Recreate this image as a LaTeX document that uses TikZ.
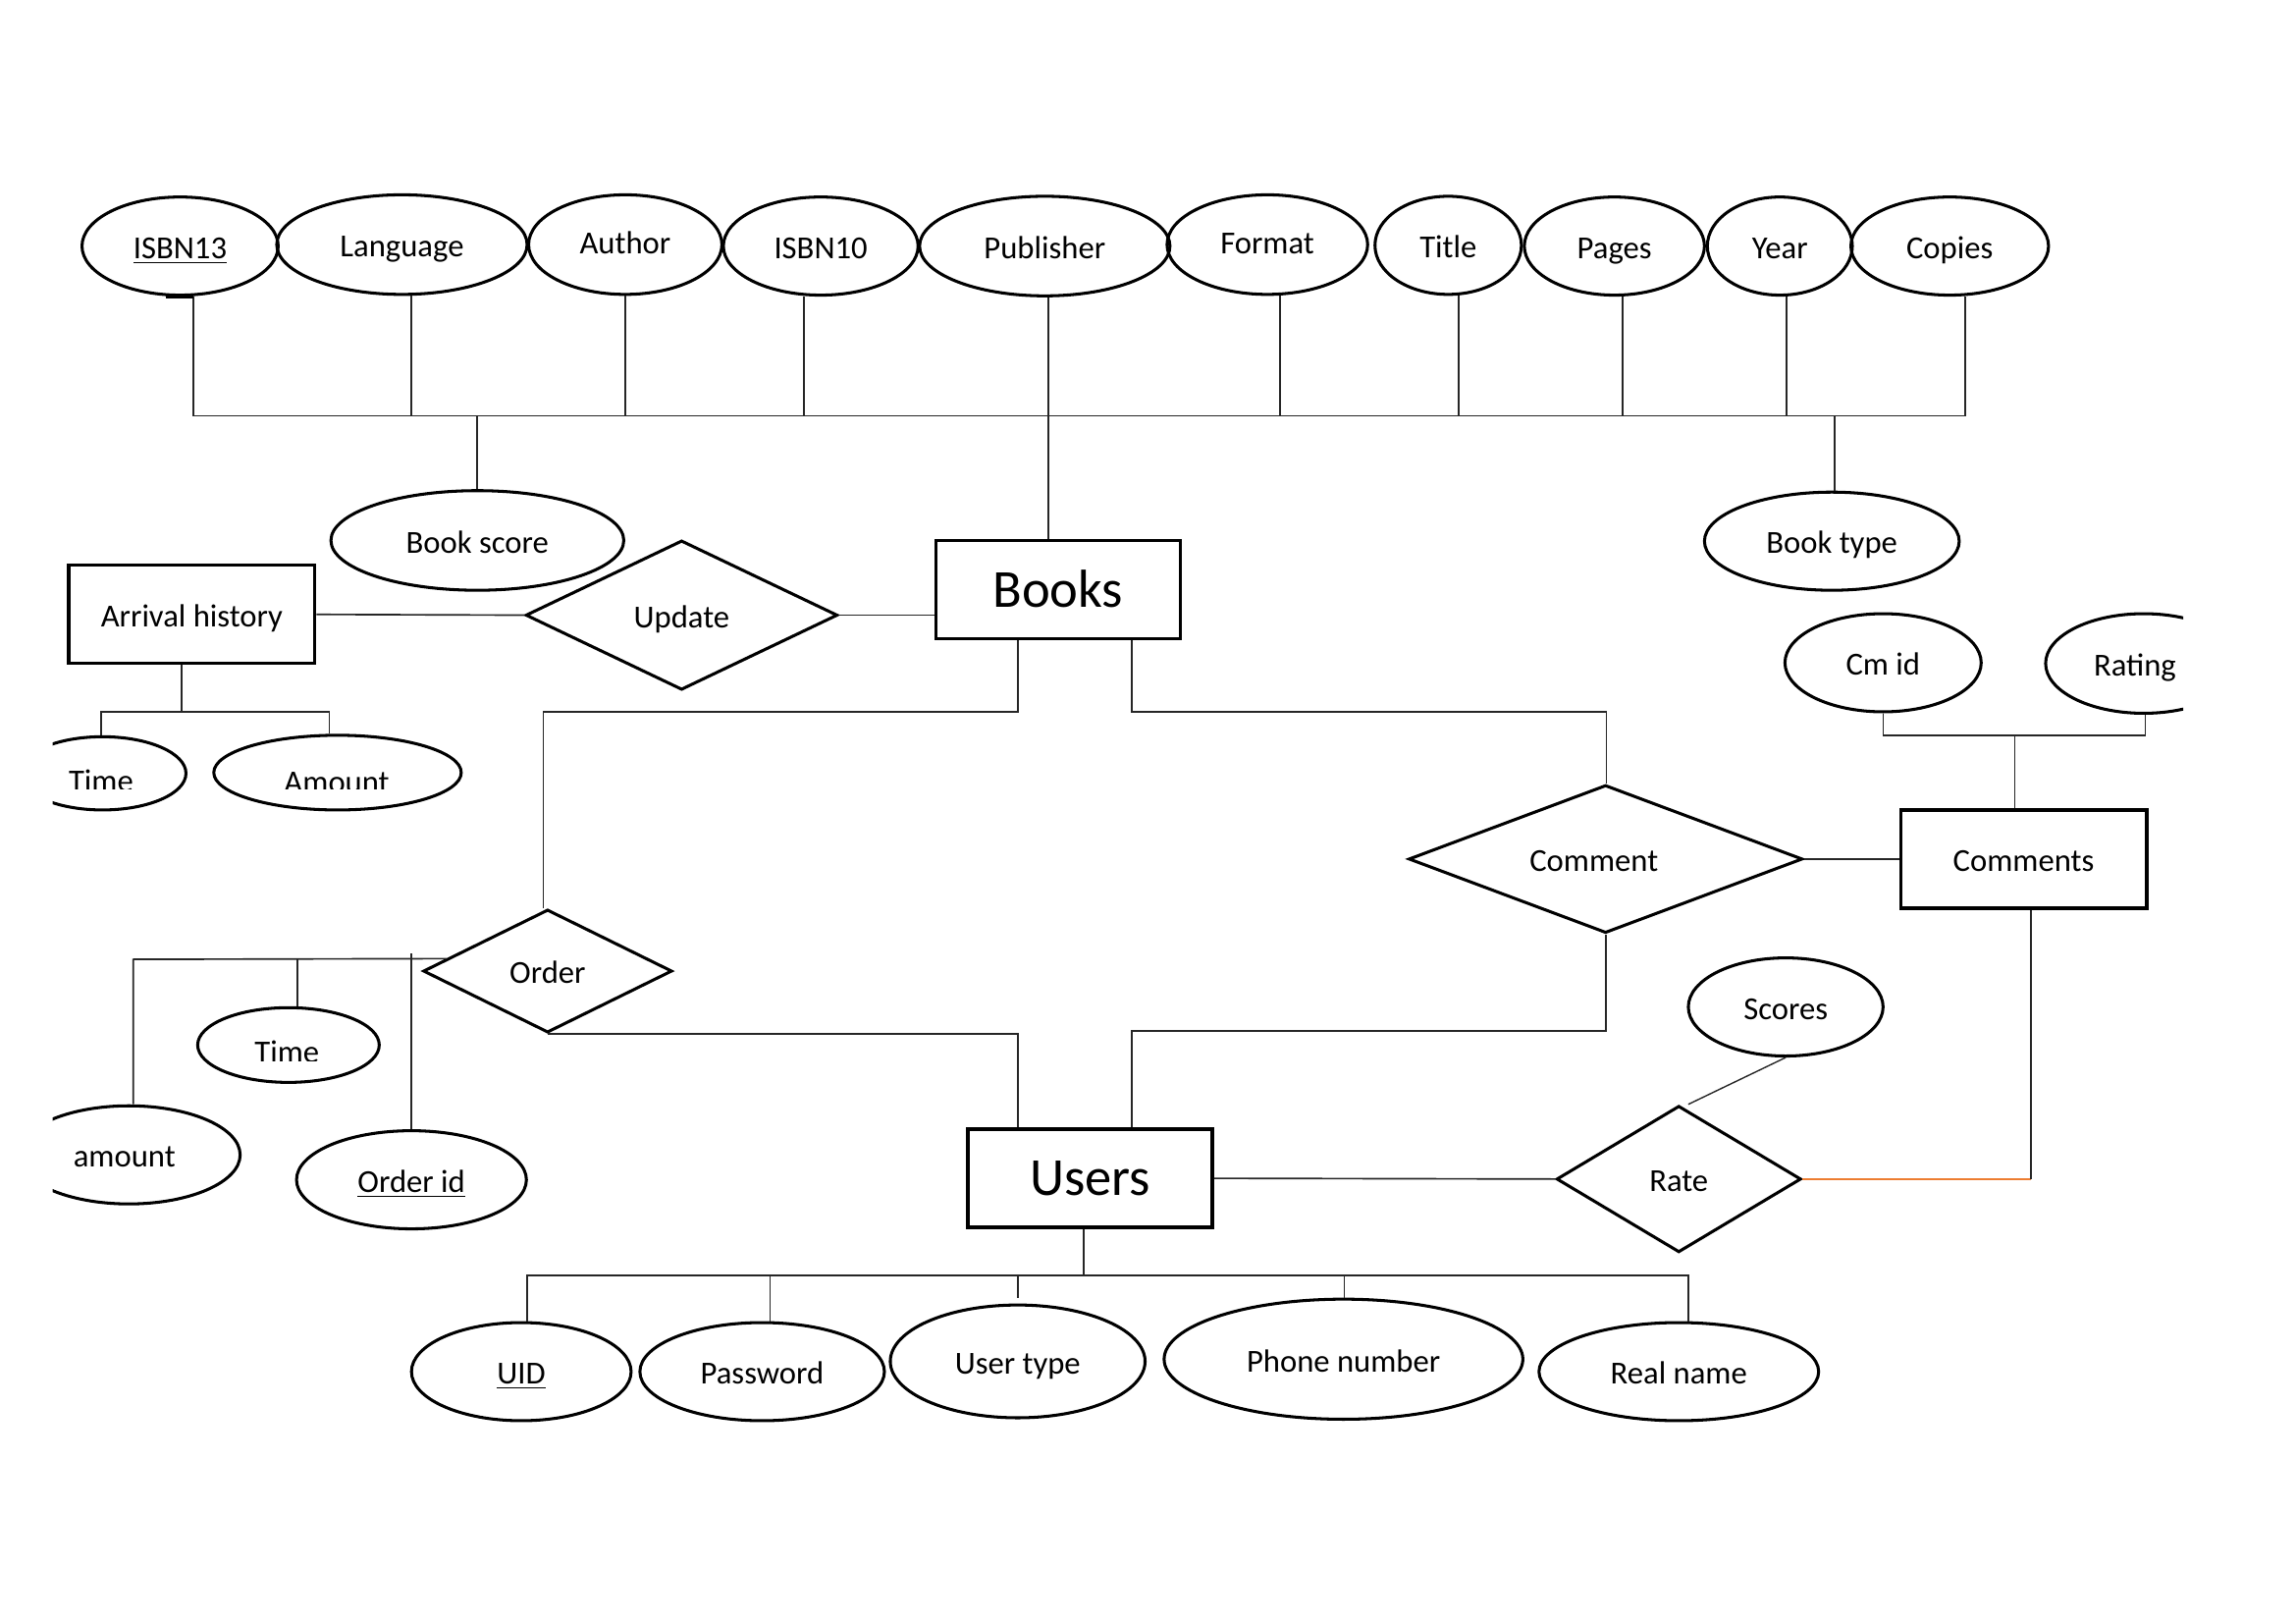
\documentclass[tikz,border=0pt]{standalone}
\usepackage{fontspec}
\setmainfont{Carlito}
\usetikzlibrary{shapes.geometric}

\newdimen\unitlen
\unitlen=0.018941cm
\newcommand\attrfont{\fontsize{11.8}{14}\selectfont}
\newcommand\entfont{\fontsize{19.7}{24}\selectfont}
\definecolor{linkorange}{HTML}{ED7D31}

\tikzset{
  attr/.style 2 args={draw, ellipse, line width=1.1pt, inner sep=0pt,
    minimum width=#1*\unitlen, minimum height=#2*\unitlen,
    font=\attrfont, text height=9.2pt, text depth=0pt},
  entity/.style 2 args={draw, rectangle, line width=1.2pt, inner sep=0pt,
    minimum width=#1*\unitlen, minimum height=#2*\unitlen,
    font=\attrfont, text height=9.2pt, text depth=0pt},
  bigentity/.style 2 args={entity={#1}{#2}, font=\entfont,
    text height=12.9pt, text depth=0pt},
  rel/.style 2 args={draw, diamond, line width=1.1pt, inner sep=0pt,
    minimum width=#1*\unitlen, minimum height=#2*\unitlen,
    font=\attrfont, text height=9.2pt, text depth=0pt},
  lbl/.style={inner sep=0pt, font=\attrfont},
  conn/.style={draw=black!85, line width=0.6pt},
}

\begin{document}
\begin{tikzpicture}[x=0.018941cm, y=-0.018941cm]
\useasboundingbox (0,0) rectangle (1568,1108);
\fill[white] (0,0) rectangle (1568,1108);
\clip (36,0) rectangle (1491,1108);

% ---------- Books and its attributes ----------
\node[attr={134}{67}] (isbn13)    at (123,168)   {\underline{ISBN13}};
\node[attr={171}{68}] (language)  at (274.5,167) {Language};
\node[attr={132}{68}] (author)    at (427,167)   {\raisebox{2.2\unitlen}{Author}};
\node[attr={133}{67}] (isbn10)    at (560.5,168) {ISBN10};
\node[attr={171}{68}] (publisher) at (713.5,168) {Publisher};
\node[attr={137}{68}] (format)    at (865.5,167) {\raisebox{2.2\unitlen}{Format}};
\node[attr={100}{67}] (title)     at (989,167.5) {Title};
\node[attr={123}{67}] (pages)     at (1102.5,168) {Pages};
\node[attr={99}{67}]  (year)      at (1215.5,168) {Year};
\node[attr={135}{67}] (copies)    at (1331.5,168) {Copies};
\node[attr={200}{68}] (bscore)    at (326,369)   {Book score};
\node[attr={174}{67}] (btype)     at (1251,369.5) {Book type};

\node[bigentity={167}{67}] (books) at (722.5,402.5) {Books};

\coordinate (topbusL) at (132,284);
\coordinate (topbusR) at (1342,284);
\draw[conn] (topbusL |- isbn13.south) -- (topbusL) -- (topbusR) -- (topbusR |- copies.south);
\draw[line width=1.4pt] (113,0 |- isbn13.south) -- (132,0 |- isbn13.south);
\foreach \n/\x in {language/281, author/427, isbn10/549, format/874,
                   title/996, pages/1108, year/1220}
  \draw[conn] (\x,0 |- \n.south) -- (\x,0 |- topbusL);
\draw[conn] (716,0 |- publisher.south) -- (716,0 |- books.north);
\draw[conn] (bscore.north |- topbusL) -- (bscore.north);
\draw[conn] (1253,0 |- topbusL) -- (1253,0 |- btype.north);

% ---------- Arrival history ----------
\node[entity={168}{67}] (arrival) at (131,419.5) {Arrival history};
\node[rel={213}{102}] (update) at (465.5,420) {Update};
\node[attr={114}{50}] (ahtime)   at (70,528)    {};
\node[attr={169}{51}] (ahamount) at (230.5,527.5) {};
\begin{scope}
  \clip (0,500) rectangle (1568,538.5);
  \node[lbl, anchor=base] (ahtimetext)   at (69,540.5)  {Time};
  \node[lbl, anchor=base] (ahamounttext) at (230,541) {Amount};
\end{scope}

\draw[conn] (arrival.east) -- (update.west);
\draw[conn] (update.east) -- (update.east -| books.west);
\coordinate (arrbus) at (124,486);
\draw[conn] (arrbus |- arrival.south) -- (arrbus);
\draw[conn] (69,0 |- ahtime.north) |- (225,0 |- arrbus) -- (225,0 |- ahamount.north);

% ---------- Comments ----------
\node[rel={269}{101}] (comment) at (1096.5,586.5) {\makebox[0pt]{Comment\kern16\unitlen}};
\node[entity={168}{67}] (comments) at (1382,586.5) {Comments};
\node[attr={134}{67}] (cmid)   at (1286,452.5) {Cm id};
\node[attr={134}{68}] (rating) at (1464,453)   {Rating\kern12\unitlen};

\coordinate (bkcom) at (1097,486);
\draw[conn] (773,0 |- books.south) |- (bkcom) -- (bkcom |- comment.north);
\draw[conn] (comment.east) -- (comments.west);
\coordinate (cmbus) at (1376,502);
\draw[conn] (cmbus |- comments.north) -- (cmbus);
\draw[conn] (cmid.south) |- (1465,0 |- cmbus) -- (1465,0 |- rating.south);

% ---------- Order ----------
\node[rel={170}{84}] (order) at (374,663) {Order};
\node[attr={124}{51}] (otime)   at (197,713.5) {};
\node[attr={152}{67}] (amount2) at (88,788.5)  {amount\kern6\unitlen};
\node[attr={157}{67}] (orderid) at (281,805.5) {\underline{Order id}};
\begin{scope}
  \clip (0,690) rectangle (1568,724.5);
  \node[lbl, anchor=base] (otimetext) at (196,726) {Time};
\end{scope}

\coordinate (bkord) at (371,486);
\draw[conn] (695,0 |- books.south) |- (bkord) -- (bkord |- order.north);
\coordinate (ordbus) at (91,655);
\draw[conn] (ordbus |- amount2.north) -- (ordbus) -- (order.173);
\draw[conn] (203,0 |- ordbus) -- (203,0 |- otime.north);
\draw[conn] (orderid.north |- 0,651) -- (orderid.north);

% ---------- Users ----------
\node[bigentity={167}{67}] (users) at (744.5,804.5) {Users};
\node[rel={167}{100}] (rate) at (1146.5,805) {Rate};
\node[attr={133}{67}] (scores) at (1219.5,687.5) {Scores};

\draw[conn] (order.south) -| (695,0 |- users.north);
\coordinate (cmusr) at (773,704);
\draw[conn] (comment.south) |- (cmusr) -- (cmusr |- users.north);
\draw[conn] (users.east) -- (rate.west);
\coordinate (rtcm) at (1387,805);
\draw[conn, draw=linkorange] (rate.east) -- (rtcm |- rate.east);
\draw[conn] (rtcm |- rate.east) -- (rtcm |- comments.south);
\draw[conn, line width=0.5pt] (scores.south) -- (1153,0 |- rate.north);

\node[attr={150}{67}] (uid)      at (356,936.5)  {\underline{UID}};
\node[attr={167}{67}] (password) at (520.5,936.5) {Password};
\node[attr={174}{77}] (utype)    at (695,929.5)  {User type};
\node[attr={245}{82}] (phone)    at (917.5,928)  {Phone number};
\node[attr={191}{67}] (realname) at (1146.5,936.5) {Real name};

\coordinate (usbus) at (740,871);
\draw[conn] (usbus |- users.south) -- (usbus);
\draw[conn] (360,0 |- uid.north) |- (1153,0 |- usbus) -- (1153,0 |- realname.north);
\draw[conn] (526,0 |- usbus) -- (526,0 |- password.north);
\draw[conn, shorten >=0.076cm] (utype.north |- usbus) -- (utype.north);
\draw[conn] (918,0 |- usbus) -- (918,0 |- phone.north);
\end{tikzpicture}
\end{document}
